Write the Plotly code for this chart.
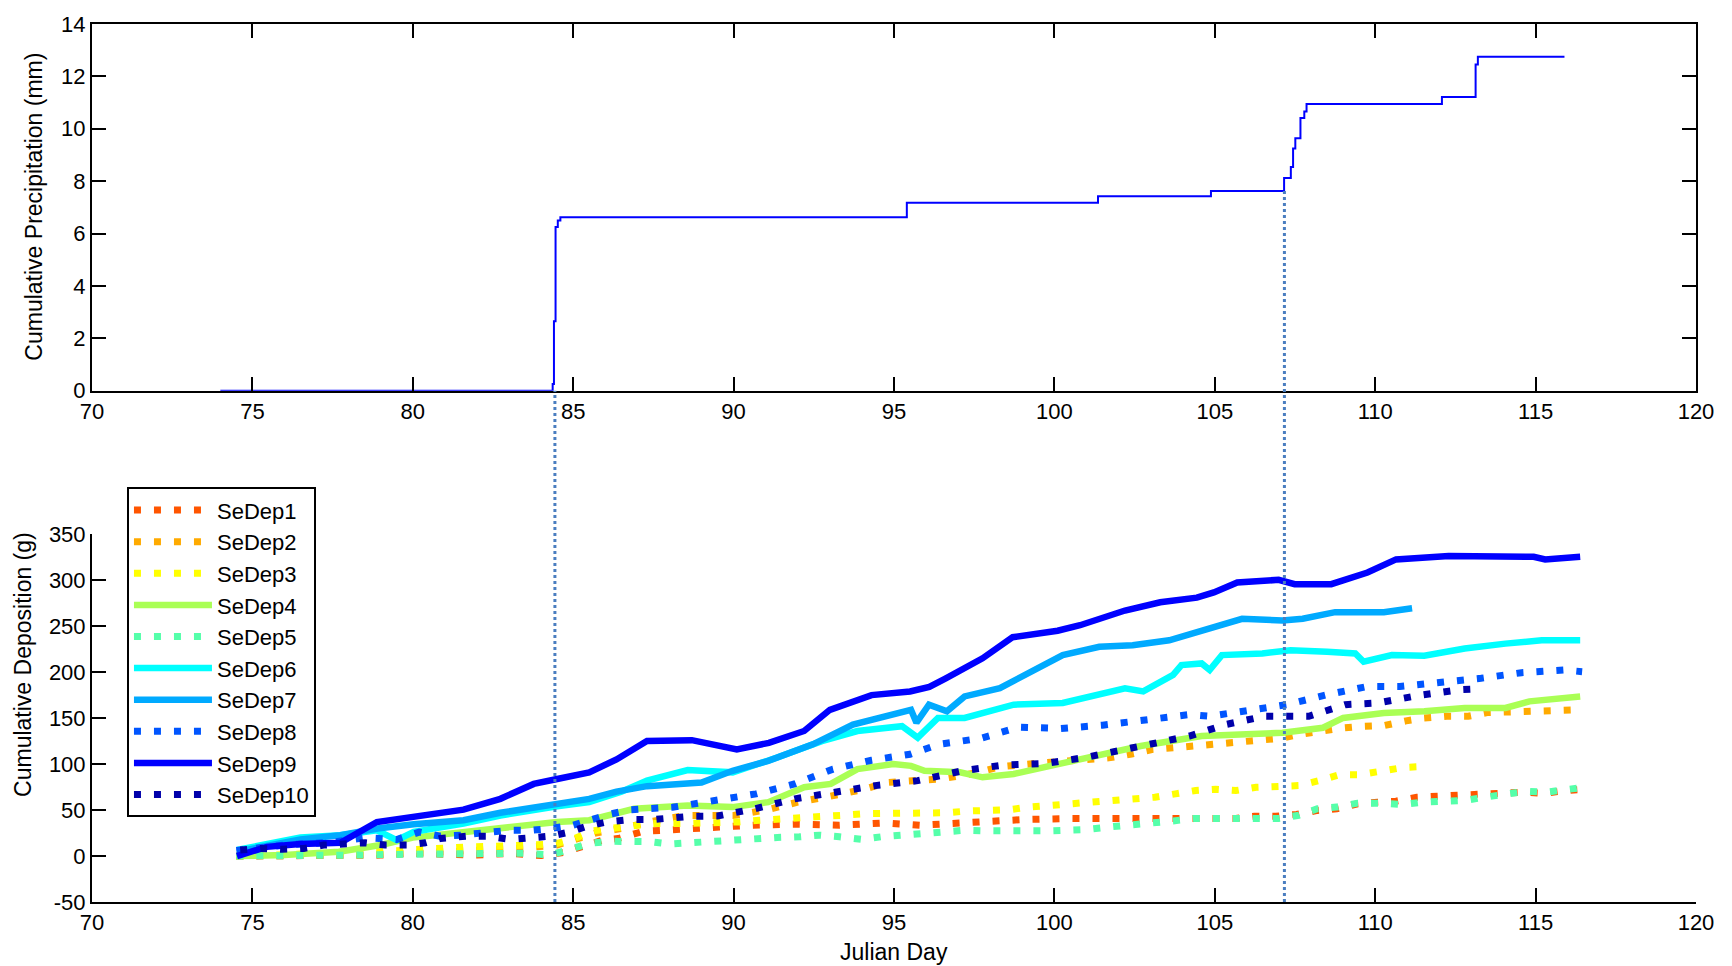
import plotly.graph_objects as go

# ---------------- data ----------------
precip_day = [74.0, 84.36, 84.40, 84.45, 84.52, 84.60, 95.40, 101.36, 104.88, 107.16, 107.37,
              107.44, 107.51, 107.67, 107.79, 107.86, 112.08, 113.13, 113.20, 115.90]
precip_mm = [0.0, 0.25, 2.65, 6.25, 6.50, 6.62, 7.17, 7.42, 7.62, 8.12, 8.54,
             9.25, 9.64, 10.41, 10.66, 10.95, 11.21, 12.45, 12.75, 12.75]

event_day = [84.43, 107.17]
event_precip = [0.0, 7.62]

names = ["SeDep1", "SeDep2", "SeDep3", "SeDep4", "SeDep5",
         "SeDep6", "SeDep7", "SeDep8", "SeDep9", "SeDep10"]

d1_day = [74.5, 76.0, 77.0, 78.0, 79.0, 80.0, 81.0, 82.0, 83.0, 83.4, 84.0, 84.7, 85.3, 85.9, 86.4,
          87.2, 87.8, 88.5, 89.1, 90.0, 90.6, 92.0, 93.3, 94.7, 95.8, 96.4, 97.06, 97.7, 98.3, 99.0,
          100.3, 101.66, 103.05, 104.16, 104.9, 105.6, 106.23, 106.9, 107.55, 108.2, 108.8, 109.45,
          110.08, 110.65, 111.3, 111.97, 112.6, 113.24, 113.93, 114.6, 115.3, 115.95, 116.3]
d1_val = [0.0, 0.0, 0.5, 0.0, 1.0, 2.9, 1.5, 1.0, 2.9, 1.2, 0.5, 3.9, 10.0, 17.0, 19.0,
          27.0, 28.0, 30.0, 31.7, 32.4, 33.5, 34.6, 33.5, 36.0, 33.5, 34.6, 36.0, 37.0, 39.0, 39.6,
          40.7, 40.7, 40.7, 41.8, 40.7, 40.7, 43.2, 43.2, 45.3, 49.6, 51.4, 56.8,
          58.6, 59.7, 64.0, 64.7, 66.9, 67.6, 68.3, 69.4, 68.3, 71.2, 72.0]

d2_day = [74.5, 76.0, 78.0, 80.0, 82.0, 83.5, 84.5, 85.2, 85.7, 86.5, 87.5, 88.5, 90.0, 91.0, 92.0,
          93.0, 94.0, 94.8, 95.5, 96.5, 97.5, 98.3, 99.5, 100.5, 101.75, 102.4, 103.07, 103.8, 104.46,
          105.1, 105.72, 106.4, 107.05, 107.6, 108.31, 108.9, 109.57, 110.3, 110.96, 111.5, 112.23,
          112.9, 113.49, 114.1, 114.81, 115.5, 116.4]
d2_val = [0.0, 0.0, 1.0, 3.0, 6.0, 9.0, 12.0, 20.0, 25.0, 30.0, 38.0, 44.0, 44.0, 50.0, 58.6,
          65.0, 72.0, 80.0, 82.0, 84.0, 90.0, 97.0, 101.0, 104.0, 107.0, 111.0, 116.0, 118.0, 120.0,
          123.0, 125.0, 127.0, 128.0, 132.0, 136.0, 139.0, 141.0, 142.0, 147.0, 150.0, 152.0,
          152.0, 156.0, 157.0, 157.0, 159.0, 159.0]

d3_day = [74.5, 76.0, 77.5, 79.0, 80.55, 81.2, 81.8, 82.4, 83.1, 83.8, 84.4, 85.0, 85.6, 86.14,
          86.77, 87.46, 88.5, 89.48, 90.17, 90.8, 92.05, 93.38, 94.07, 95.3, 96.65, 97.27, 97.9,
          98.6, 99.2, 99.9, 100.5, 101.2, 101.86, 102.5, 103.13, 103.77, 104.4, 105.03, 105.66,
          106.29, 106.99, 107.62, 108.25, 108.88, 109.51, 110.2, 110.9, 111.53]
d3_val = [0.0, 1.0, 3.0, 5.0, 8.4, 9.5, 10.0, 10.5, 11.2, 11.5, 13.0, 18.3, 27.3, 29.9,
          32.4, 35.3, 35.3, 35.3, 37.1, 38.9, 40.7, 44.3, 46.0, 46.0, 47.1, 48.9, 49.6,
          50.4, 53.2, 55.0, 56.8, 58.6, 60.4, 62.9, 64.0, 67.6, 71.2, 72.6, 71.2,
          74.8, 74.8, 76.6, 82.0, 88.5, 88.5, 92.7, 96.4, 97.4]

d4_day = [74.5, 76.0, 77.7, 79.0, 80.0, 81.0, 82.7, 84.5, 85.5, 86.2, 86.9, 88.57, 89.97, 91.08,
          92.2, 93.03, 93.86, 94.98, 95.53, 95.95, 97.06, 97.76, 98.73, 100.12, 100.82, 101.43,
          102.69, 104.59, 107.11, 108.37, 109.0, 110.27, 111.53, 112.79, 114.06, 114.81, 116.39]
d4_val = [0.0, 1.0, 4.7, 12.0, 20.0, 24.0, 30.0, 37.0, 38.9, 46.0, 51.4, 55.0, 53.2, 58.6,
          74.8, 78.4, 94.5, 100.0, 98.1, 92.7, 91.0, 85.6, 89.2, 100.0, 105.3, 110.7,
          119.7, 130.5, 134.1, 139.5, 150.2, 155.6, 157.4, 161.0, 161.0, 168.2, 173.6]

d5_day = [74.5, 76.0, 78.0, 80.0, 82.0, 83.5, 84.3, 84.9, 85.5, 86.2, 86.8, 87.4, 88.0, 88.6,
          89.4, 90.1, 90.73, 91.36, 92.05, 92.68, 93.3, 94.0, 94.6, 95.25, 95.95, 96.6, 97.2,
          97.9, 98.5, 99.15, 99.8, 100.4, 101.0, 101.73, 102.38, 103.07, 103.7, 104.33, 105.03,
          105.66, 106.29, 106.99, 107.62, 108.2, 108.8, 109.45, 110.14, 110.84, 111.47, 112.16,
          112.79, 113.42, 114.06, 114.69, 115.32, 115.95, 116.52]
d5_val = [0.0, 0.0, 1.0, 2.0, 3.0, 3.0, 1.2, 6.6, 13.8, 16.0, 16.5, 15.6, 13.0, 14.4,
          16.6, 17.3, 20.2, 20.2, 20.9, 22.7, 20.9, 18.0, 20.9, 22.7, 25.2, 25.2, 28.0,
          27.4, 28.0, 27.4, 27.4, 28.0, 28.8, 31.7, 33.5, 35.3, 38.2, 40.7, 40.7,
          38.9, 40.7, 40.7, 44.3, 51.4, 53.2, 57.5, 57.5, 56.1, 58.6, 60.4,
          60.4, 64.0, 67.6, 70.5, 69.4, 72.6, 74.8]

d6_day = [74.52, 76.5, 77.74, 78.88, 79.5, 80.03, 81.58, 82.73, 84.5, 85.5, 86.5, 87.3, 88.57,
          89.97, 91.36, 92.75, 93.86, 95.25, 95.74, 96.37, 97.2, 98.73, 100.26, 101.4, 102.2,
          102.77, 103.7, 103.96, 104.59, 104.84, 105.22, 106.48, 107.36, 108.5, 109.38, 109.64,
          110.52, 111.53, 112.79, 114.06, 115.19, 116.39]
d6_val = [6.5, 20.2, 22.7, 28.0, 17.3, 26.3, 35.3, 44.0, 54.0, 58.6, 70.0, 82.0, 93.5,
          91.0, 107.1, 125.0, 135.9, 141.2, 128.7, 150.2, 150.2, 164.6, 166.4, 175.0, 182.5,
          179.0, 197.0, 207.7, 209.5, 202.3, 218.5, 220.3, 223.9, 222.1, 220.3, 211.3,
          218.5, 217.8, 225.7, 231.0, 234.6, 234.6]

d7_day = [74.52, 76.5, 77.74, 78.9, 80.03, 81.58, 82.73, 84.4, 85.5, 86.35, 87.3, 89.0, 89.97,
          91.08, 92.47, 93.72, 94.98, 95.53, 95.7, 96.09, 96.65, 97.2, 98.3, 99.43, 100.26,
          101.4, 102.44, 103.58, 104.46, 105.22, 105.85, 107.11, 107.74, 108.75, 110.27, 111.15]
d7_val = [4.7, 18.0, 22.7, 30.0, 34.6, 38.9, 47.0, 56.8, 62.2, 70.0, 76.0, 80.0, 92.7,
          103.5, 121.5, 143.0, 153.8, 159.0, 145.0, 164.6, 157.4, 173.6, 182.6, 204.0, 218.5,
          227.5, 229.2, 234.6, 243.6, 252.6, 258.0, 256.2, 258.0, 265.2, 265.2, 269.5]

d8_day = [74.5, 76.0, 77.5, 78.5, 79.5, 80.2, 80.85, 81.5, 83.0, 83.7, 84.3, 85.0, 86.2, 86.8,
          88.1, 89.5, 90.7, 91.9, 93.1, 94.3, 95.5, 96.4, 97.7, 98.9, 100.2, 101.5, 102.8, 104.2,
          104.84, 106.1, 107.24, 108.5, 109.76, 110.77, 112.03, 113.3, 114.56, 115.89, 116.45]
d8_val = [6.0, 12.0, 15.0, 20.0, 18.0, 26.0, 21.6, 22.7, 28.0, 28.0, 30.0, 33.5, 46.0, 50.4,
          53.0, 60.4, 67.6, 78.4, 94.5, 104.2, 110.7, 121.5, 128.0, 140.2, 138.7, 142.3, 148.4, 153.8,
          152.0, 159.2, 164.6, 175.4, 184.4, 184.4, 188.0, 193.3, 199.4, 202.3, 200.5]

d9_day = [74.52, 75.45, 76.49, 77.74, 78.88, 80.03, 81.58, 82.73, 83.77, 84.5, 85.5, 86.35, 87.3,
          88.7, 89.4, 90.1, 91.1, 92.2, 93.0, 94.3, 95.5, 96.1, 96.6, 97.76, 98.7, 100.1, 100.8,
          102.2, 103.3, 104.44, 104.97, 105.7, 106.99, 107.49, 108.63, 109.76, 110.65, 112.29,
          114.94, 115.3, 116.39]
d9_val = [0.0, 10.0, 13.0, 14.4, 37.0, 43.0, 50.4, 62.2, 78.4, 83.8, 91.0, 105.0, 125.0,
          126.0, 121.5, 116.0, 123.0, 136.0, 159.0, 175.0, 179.0, 184.0, 193.0, 215.0, 238.0, 245.0, 251.0,
          267.0, 276.0, 281.0, 286.7, 297.5, 300.4, 295.7, 295.7, 308.3, 322.6, 326.2,
          325.5, 322.6, 325.5]

d10_day = [74.62, 75.25, 75.92, 76.6, 77.22, 77.84, 78.52, 79.14, 79.82, 80.39, 80.86, 81.69,
           82.31, 83.04, 83.71, 84.29, 84.91, 85.43, 86.05, 86.78, 87.46, 87.98, 88.65, 89.5,
           90.66, 91.91, 93.17, 94.42, 95.74, 97.13, 98.39, 99.71, 100.96, 102.14, 103.53,
           104.21, 105.34, 106.54, 107.93, 109.07, 110.08, 111.34, 112.6, 113.24]
d10_val = [6.5, 8.3, 7.3, 8.3, 11.9, 13.0, 14.4, 11.9, 11.9, 14.4, 19.1, 21.6,
           21.6, 18.0, 19.1, 21.6, 26.3, 32.4, 37.1, 39.6, 39.6, 41.7, 43.2, 43.5,
           51.4, 62.2, 69.4, 76.6, 82.0, 92.7, 98.9, 100.7, 107.1, 116.1, 126.2,
           130.5, 143.0, 152.0, 152.0, 164.6, 166.4, 174.6, 180.8, 181.8]

series_days = [d1_day, d2_day, d3_day, d4_day, d5_day, d6_day, d7_day, d8_day, d9_day, d10_day]
series_vals = [d1_val, d2_val, d3_val, d4_val, d5_val, d6_val, d7_val, d8_val, d9_val, d10_val]

x_ticks = [70, 75, 80, 85, 90, 95, 100, 105, 110, 115, 120]
top_y_ticks = [0, 2, 4, 6, 8, 10, 12, 14]
bot_y_ticks = [-50, 0, 50, 100, 150, 200, 250, 300, 350]

# ---------------- styles ----------------
colors = ["#FF5500", "#FFAA00", "#FFFF00", "#AAFF55", "#55FFAA",
          "#00FFFF", "#00AAFF", "#0055FF", "#0000FF", "#0000AA"]
dotted = [True, True, True, False, True, False, False, True, False, True]

FONT = "Liberation Sans, Arial, sans-serif"
FS = 22
TFS = 23

W, H = 1732, 966
ML, MR, MT, MB = 92, 36, 17, 64
top_dom = [0.5824, 1.0]
bot_dom = [0.0, 0.4189]
top_rng = [0, 14]
bot_rng = [-50, 350]

fig = go.Figure()

fig.add_trace(go.Scatter(x=precip_day, y=precip_mm, mode="lines", line_shape="hv",
                         line=dict(color="#0000FF", width=2), showlegend=False,
                         xaxis="x", yaxis="y"))

for nm, dd, vv, col, dt in zip(names, series_days, series_vals, colors, dotted):
    fig.add_trace(go.Scatter(
        x=dd, y=vv, mode="lines", name=nm,
        line=dict(color=col, width=6.5 if not dt else 7,
                  dash="7px,13px" if dt else "solid"),
        xaxis="x2", yaxis="y2"))

# vertical event lines spanning both panels
for ed, ep in zip(event_day, event_precip):
    ytop = top_dom[0] + (ep - top_rng[0]) / (top_rng[1] - top_rng[0]) * (top_dom[1] - top_dom[0])
    fig.add_shape(type="line", xref="x", yref="paper", x0=ed, x1=ed, y0=0, y1=ytop,
                  line=dict(color="#4A7EC0", width=3, dash="dot"), layer="above")

tickfont = dict(family=FONT, size=FS, color="black")
axis_common = dict(range=[70, 120], tickvals=x_ticks, ticktext=[str(v) for v in x_ticks],
                   ticks="inside", ticklen=14, tickwidth=1.5,
                   tickcolor="black", showline=True, linecolor="black", linewidth=2,
                   showgrid=False, zeroline=False, tickfont=tickfont)

fig.update_layout(
    width=W, height=H,
    margin=dict(l=ML, r=MR, t=MT, b=MB),
    paper_bgcolor="white", plot_bgcolor="white",
    font=dict(family=FONT, size=FS, color="black"),
    xaxis=dict(domain=[0, 1], anchor="y", mirror="ticks", **axis_common),
    yaxis=dict(domain=top_dom, anchor="x", range=top_rng, tickvals=top_y_ticks,
               ticktext=[str(v) for v in top_y_ticks], mirror="ticks",
               ticks="inside", ticklen=14, tickwidth=1.5, tickcolor="black",
               showline=True, linecolor="black", linewidth=2, showgrid=False, zeroline=False,
               tickfont=tickfont),
    xaxis2=dict(domain=[0, 1], anchor="y2", mirror=False, **axis_common),
    yaxis2=dict(domain=bot_dom, anchor="x2", range=bot_rng, tickvals=bot_y_ticks,
                ticktext=[str(v) for v in bot_y_ticks], mirror=False,
                ticks="inside", ticklen=14, tickwidth=1.5, tickcolor="black",
                showline=True, linecolor="black", linewidth=2, showgrid=False, zeroline=False,
                tickfont=tickfont),
    legend=dict(x=0.0218, y=0.4723, xanchor="left", yanchor="top",
                bgcolor="white", bordercolor="black", borderwidth=2,
                font=dict(family=FONT, size=FS, color="black"),
                tracegroupgap=0, itemwidth=78),
    showlegend=True,
)

pw = W - ML - MR
ph = H - MT - MB
fig.add_annotation(text="Cumulative Precipitation (mm)", xref="paper", yref="paper",
                   x=(34.5 - ML) / pw, y=(H - MB - 201.6) / ph, textangle=-90,
                   showarrow=False, xanchor="center", yanchor="middle",
                   font=dict(family=FONT, size=TFS, color="black"))
fig.add_annotation(text="Cumulative Deposition (g)", xref="paper", yref="paper",
                   x=(23 - ML) / pw, y=(H - MB - 663) / ph, textangle=-90,
                   showarrow=False, xanchor="center", yanchor="middle",
                   font=dict(family=FONT, size=TFS, color="black"))
fig.add_annotation(text="Julian Day", xref="paper", yref="paper",
                   x=0.5, y=(H - MB - 952) / ph,
                   showarrow=False, xanchor="center", yanchor="middle",
                   font=dict(family=FONT, size=TFS, color="black"))

fig.write_html("out.html")
